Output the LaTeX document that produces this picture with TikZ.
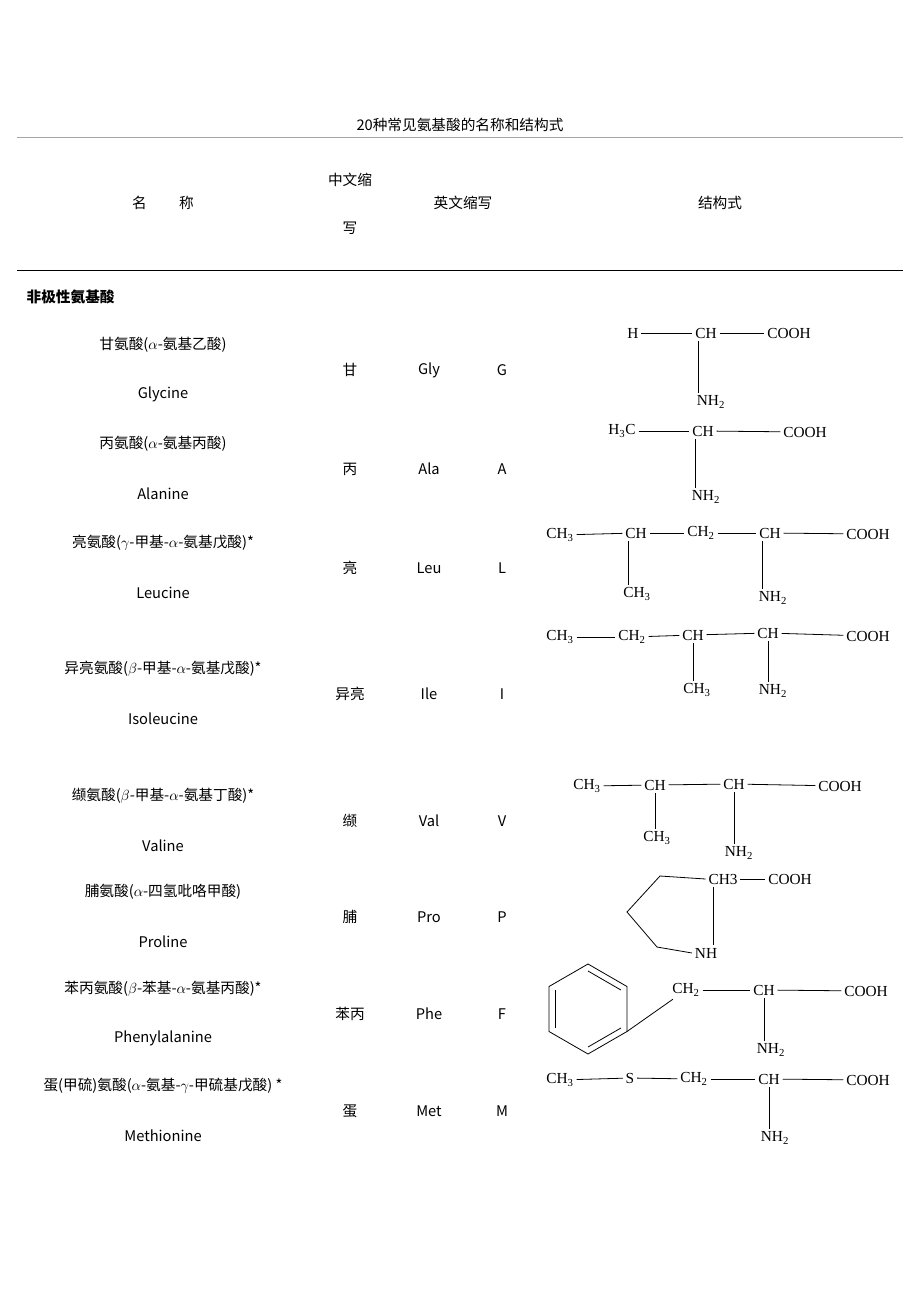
\documentclass[tikz,border=0pt]{standalone}
\usepackage{fontspec}
\usetikzlibrary{calc}
\setmainfont{Liberation Sans}
\newfontfamily\cjk{Noto Sans CJK SC}
\newfontfamily\chemf{Liberation Serif}
\begin{document}
\begin{tikzpicture}[x=0.75pt,y=-0.75pt]
  \tikzset{txt/.style = {font=\cjk\fontsize{11}{12}\selectfont,inner sep=1pt}}
  \tikzset{chem/.style = {font=\chemf\fontsize{11.5}{12}\selectfont,inner sep=2pt}}
  \tikzset{bond/.style = {line width=0.6pt}}
  \useasboundingbox (0,0) rectangle (920,1302);

% title and header
\node[txt] (title) at (460,125) {20种常见氨基酸的名称和结构式};
\draw[gray!70, line width=0.4pt] (17,137) -- (903,137);
\node[txt] (hname) at (163,203) {名\hspace{2.2em}称};
\node[txt] (hcn1) at (350,180) {中文缩};
\node[txt] (hcn2) at (350,228) {写};
\node[txt] (hen) at (463,203) {英文缩写};
\node[txt] (hst) at (720,203) {结构式};
\draw[line width=0.7pt] (17,270) -- (903,270);
\node[txt, anchor=west, font=\cjk\bfseries\fontsize{11}{12}\selectfont] (grp) at (25,297) {非极性氨基酸};

% name rows
\foreach \cn/\en/\za/\ab/\le/\y in {
  甘氨酸($\alpha$-氨基乙酸)/Glycine/甘/Gly/G/345,
  丙氨酸($\alpha$-氨基丙酸)/Alanine/丙/Ala/A/444,
  亮氨酸($\gamma$-甲基-$\alpha$-氨基戊酸)*/Leucine/亮/Leu/L/543,
  异亮氨酸($\beta$-甲基-$\alpha$-氨基戊酸)*/Isoleucine/异亮/Ile/I/669,
  缬氨酸($\beta$-甲基-$\alpha$-氨基丁酸)*/Valine/缬/Val/V/796,
  脯氨酸($\alpha$-四氢吡咯甲酸)/Proline/脯/Pro/P/892,
  苯丙氨酸($\beta$-苯基-$\alpha$-氨基丙酸)*/Phenylalanine/苯丙/Phe/F/989,
  蛋(甲硫)氨酸($\alpha$-氨基-$\gamma$-甲硫基戊酸) */Methionine/蛋/Met/M/1086}{
  \node[txt] (cn\y) at (163,\y) {\cn};
  \node[txt] (en\y) at (163,\y+49.5) {\en};
  \node[txt] (za\y) at (350,\y+25) {\za};
  \node[txt] (ab\y) at (429,\y+25) {\ab};
  \node[txt] (le\y) at (502,\y+25) {\le};
}

% glycine
\node[chem] (gH) at (633,333) {H};
\node[chem] (gCH) at (706,333) {CH};
\node[chem] (gCO) at (789,333) {COOH};
\node[chem] (gN) at (711,402) {NH\textsubscript{2}};
\draw[bond] (gH) -- (gCH);
\draw[bond] (gCH) -- (gCO);
\draw[bond] (gCH.south west) ++(6,0) coordinate (g1) -- (g1 |- gN.north);

% alanine
\node[chem] (aM) at (622,431) {H\textsubscript{3}C};
\node[chem] (aCH) at (703,431) {CH};
\node[chem] (aCO) at (805,432) {COOH};
\node[chem] (aN) at (706,497) {NH\textsubscript{2}};
\draw[bond] (aM) -- (aCH);
\draw[bond] (aCH) -- (aCO);
\draw[bond] (aCH.south west) ++(6,0) coordinate (a1) -- (a1 |- aN.north);

% leucine
\node[chem] (lM) at (560,535) {CH\textsubscript{3}};
\node[chem] (lC1) at (636,533) {CH};
\node[chem] (lC2) at (701,533) {CH\textsubscript{2}};
\node[chem] (lC3) at (770,533) {CH};
\node[chem] (lCO) at (868,534) {COOH};
\node[chem] (lM2) at (637,594) {CH\textsubscript{3}};
\node[chem] (lN) at (773,598) {NH\textsubscript{2}};
\draw[bond] (lM) -- (lC1);
\draw[bond] (lC1) -- (lC2);
\draw[bond] (lC2) -- (lC3);
\draw[bond] (lC3) -- (lCO);
\draw[bond] (lC1.south west) ++(6,0) coordinate (l1) -- (l1 |- lM2.north);
\draw[bond] (lC3.south west) ++(6,0) coordinate (l2) -- (l2 |- lN.north);

% isoleucine
\node[chem] (iM) at (560,637) {CH\textsubscript{3}};
\node[chem] (iC1) at (632,637) {CH\textsubscript{2}};
\node[chem] (iC2) at (693,635) {CH};
\node[chem] (iC3) at (768,633) {CH};
\node[chem] (iCO) at (868,636) {COOH};
\node[chem] (iM2) at (697,690) {CH\textsubscript{3}};
\node[chem] (iN) at (773,691) {NH\textsubscript{2}};
\draw[bond] (iM) -- (iC1);
\draw[bond] (iC1) -- (iC2);
\draw[bond] (iC2) -- (iC3);
\draw[bond] (iC3) -- (iCO);
\draw[bond] (iC2.south) coordinate (i1) -- (i1 |- iM2.north);
\draw[bond] (iC3.south) coordinate (i2) -- (i2 |- iN.north);

% valine
\node[chem] (vM) at (587,786) {CH\textsubscript{3}};
\node[chem] (vC1) at (655,785) {CH};
\node[chem] (vC2) at (734,784) {CH};
\node[chem] (vCO) at (840,786) {COOH};
\node[chem] (vM2) at (657,838) {CH\textsubscript{3}};
\node[chem] (vN) at (739,853) {NH\textsubscript{2}};
\draw[bond] (vM) -- (vC1);
\draw[bond] (vC1) -- (vC2);
\draw[bond] (vC2) -- (vCO);
\draw[bond] (vC1.south) coordinate (v1) -- (v1 |- vM2.north);
\draw[bond] (vC2.south) coordinate (v2) -- (v2 |- vN.north);

% proline
\node[chem] (pC) at (723,879) {CH3};
\node[chem] (pCO) at (790,879) {COOH};
\node[chem] (pN) at (706,953) {NH};
\draw[bond] (pC) -- (pCO);
\draw[bond] (pC.west) -- (660,876) -- (627,912) -- (657,947) -- (pN.west);
\draw[bond] (pC.south west) ++(8,0) coordinate (p1) -- (p1 |- pN.north);

% phenylalanine
\coordinate (bz) at (588,1009);
\draw[bond] (bz) ++(90:45) -- ++(-30:45) -- ++(-90:45) -- ++(-150:45) -- ++(150:45) -- ++(90:45) -- cycle;
\draw[bond] ($(bz)+(90:38)$) -- ($(bz)+(30:38)$);
\draw[bond] ($(bz)+(-30:38)$) -- ($(bz)+(-90:38)$);
\draw[bond] ($(bz)+(-150:38)$) -- ($(bz)+(150:38)$);
\coordinate (fR) at ($(bz)+(30:45)$);
\node[chem] (fC2) at (686,990) {CH\textsubscript{2}};
\node[chem] (fC) at (764,990) {CH};
\node[chem] (fCO) at (866,991) {COOH};
\node[chem] (fN) at (771,1050) {NH\textsubscript{2}};
\draw[bond] (fR) -- (fC2);
\draw[bond] (fC2) -- (fC);
\draw[bond] (fC) -- (fCO);
\draw[bond] (fC.south) coordinate (f1) -- (f1 |- fN.north);

% methionine
\node[chem] (mM) at (560,1080) {CH\textsubscript{3}};
\node[chem] (mS) at (630,1078) {S};
\node[chem] (mC2) at (694,1079) {CH\textsubscript{2}};
\node[chem] (mC) at (769,1079) {CH};
\node[chem] (mCO) at (868,1080) {COOH};
\node[chem] (mN) at (775,1138) {NH\textsubscript{2}};
\draw[bond] (mM) -- (mS);
\draw[bond] (mS) -- (mC2);
\draw[bond] (mC2) -- (mC);
\draw[bond] (mC) -- (mCO);
\draw[bond] (mC.south) coordinate (m1) -- (m1 |- mN.north);

\end{tikzpicture}
\end{document}
